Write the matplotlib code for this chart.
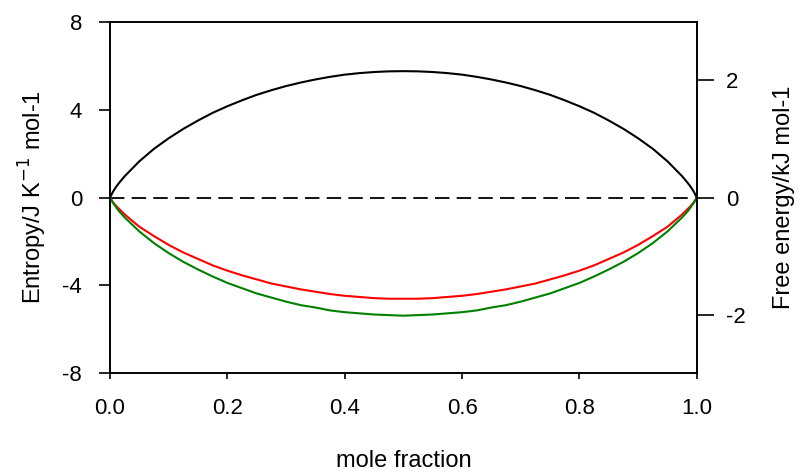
# Entropy and free energy of mixing vs mole fraction
import numpy as np
import matplotlib
matplotlib.use("Agg")
import matplotlib.pyplot as plt

plt.rcParams['font.family'] = ['Liberation Sans', 'DejaVu Sans']
plt.rcParams['axes.unicode_minus'] = False

# Mole fraction points
mole_fraction = [0.0, 0.005, 0.01, 0.015, 0.025, 0.05, 0.075, 0.1, 0.125, 0.15, 0.175, 0.2, 0.225,
                 0.25, 0.275, 0.3, 0.325, 0.35, 0.375, 0.4, 0.425, 0.45, 0.475, 0.5,
                 0.525, 0.55, 0.575, 0.6, 0.625, 0.65, 0.675, 0.7, 0.725, 0.75, 0.775, 0.8,
                 0.825, 0.85, 0.875, 0.9, 0.925, 0.95, 0.975, 0.985, 0.99, 0.995, 1.0]

# Entropy of mixing, J K-1 mol-1 (left axis)
entropy = [0.0, 0.26, 0.47, 0.65, 0.97, 1.65, 2.22, 2.70, 3.13, 3.51, 3.86, 4.16, 4.43,
           4.68, 4.89, 5.08, 5.24, 5.38, 5.50, 5.60, 5.67, 5.72, 5.75, 5.76,
           5.75, 5.72, 5.67, 5.60, 5.50, 5.38, 5.24, 5.08, 4.89, 4.68, 4.43, 4.16,
           3.86, 3.51, 3.13, 2.70, 2.22, 1.65, 0.97, 0.65, 0.47, 0.26, 0.0]

# Free energy of mixing, kJ mol-1 (right axis)
free_energy_red = [0.0, -0.08, -0.14, -0.19, -0.29, -0.50, -0.66, -0.81, -0.94, -1.05, -1.16, -1.25, -1.33,
                   -1.40, -1.47, -1.52, -1.57, -1.61, -1.65, -1.68, -1.70, -1.72, -1.73, -1.73,
                   -1.73, -1.72, -1.70, -1.68, -1.65, -1.61, -1.57, -1.52, -1.47, -1.40, -1.33, -1.25,
                   -1.16, -1.05, -0.94, -0.81, -0.66, -0.50, -0.29, -0.19, -0.14, -0.08, 0.0]
free_energy_green = [0.0, -0.09, -0.16, -0.23, -0.34, -0.58, -0.78, -0.95, -1.10, -1.23, -1.35, -1.46, -1.55,
                     -1.64, -1.71, -1.78, -1.84, -1.88, -1.93, -1.96, -1.98, -2.00, -2.01, -2.02,
                     -2.01, -2.00, -1.98, -1.96, -1.93, -1.88, -1.84, -1.78, -1.71, -1.64, -1.55, -1.46,
                     -1.35, -1.23, -1.10, -0.95, -0.78, -0.58, -0.34, -0.23, -0.16, -0.09, 0.0]

fig = plt.figure(figsize=(8, 4.72), dpi=100)
ax = fig.add_axes([0.1375, 0.2097, 0.7335, 0.7437])

# Entropy curve and dashed zero line
ax.plot(mole_fraction, entropy, color='black', lw=1.5)
ax.axhline(0, color='black', lw=1.3, dashes=(8, 4))
ax.set_xlim(0, 1)
ax.set_ylim(-8, 8)
ax.set_xticks([0.0, 0.2, 0.4, 0.6, 0.8, 1.0])
ax.set_xticklabels(['0.0', '0.2', '0.4', '0.6', '0.8', '1.0'])
ax.set_yticks([-8, -4, 0, 4, 8])
ax.tick_params(axis='y', direction='out', length=8, width=1.2, labelsize=16, pad=12)
ax.tick_params(axis='x', direction='out', length=4, width=1.2, labelsize=16, pad=14)
ax.set_ylabel(r'Entropy/J K$^{-1}$ mol-1', fontsize=17, labelpad=10)
ax.set_xlabel('mole fraction', fontsize=17, labelpad=22)

# Free energy curves on right axis
ax2 = ax.twinx()
ax2.plot(mole_fraction, free_energy_red, color='#ff0000', lw=1.5)
ax2.plot(mole_fraction, free_energy_green, color='#008000', lw=1.5)
ax2.set_ylim(-3, 3)
ax2.set_yticks([-2, 0, 2])
ax2.tick_params(axis='y', direction='out', length=12, width=1.2, labelsize=16, pad=9)
ax2.set_ylabel('Free energy/kJ mol-1', fontsize=17, labelpad=20)

for a in (ax, ax2):
    for s in a.spines.values():
        s.set_linewidth(1.2)

fig.savefig('out.png', dpi=100)
